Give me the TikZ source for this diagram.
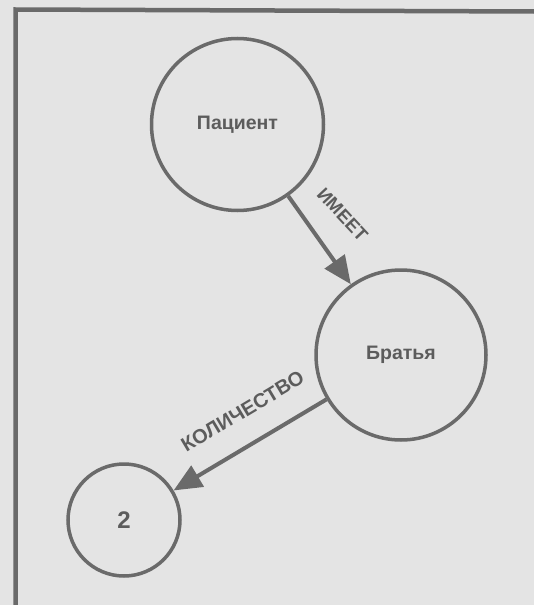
\documentclass[tikz,border=0pt]{standalone}
\usepackage{fontspec}
\setmainfont{Liberation Sans}
\usetikzlibrary{arrows.meta}
\definecolor{paper}{HTML}{E4E4E4}
\definecolor{ink}{HTML}{6A6A6A}
\definecolor{txt}{HTML}{5C5C5C}
\begin{document}
\begin{tikzpicture}[x=1pt,y=-1pt,
  entity/.style={circle,draw=ink,line width=3.5pt,inner sep=0pt,
    font=\fontsize{19.5}{23}\selectfont\bfseries,text=txt},
  relation/.style={draw=ink,line width=4pt,
    -{Triangle[length=28pt,width=24pt]}},
  rlabel/.style={inner sep=0pt,text=txt,
    font=\fontsize{18.5}{22}\selectfont\bfseries}]
  % page and frame
  \fill[paper] (0,0) rectangle (534,605);
  \useasboundingbox (0,0) rectangle (534,605);
  \draw[ink,line width=4.5pt] (534,11.5) -- (15.5,9.5) -- (15.5,605);

  % concepts
  \node[entity,minimum size=172pt] (patient) at (237.5,124.5) {Пациент};
  \node[entity,minimum size=170pt] (brothers) at (401,355) {Братья};
  \node[entity,minimum size=112pt,font=\fontsize{24}{28}\selectfont\bfseries]
    (two) at (124,520) {2};

  % relations
  \draw[relation] (patient) -- (brothers);
  \draw[relation] (brothers) -- (two);

  \node[rlabel,rotate=-47] (has) at (342.5,214.5) {ИМЕЕТ};
  \node[rlabel,rotate=30.8,font=\fontsize{20}{24}\selectfont\bfseries]
    (count) at (242.5,411.5) {КОЛИЧЕСТВО};
\end{tikzpicture}
\end{document}
